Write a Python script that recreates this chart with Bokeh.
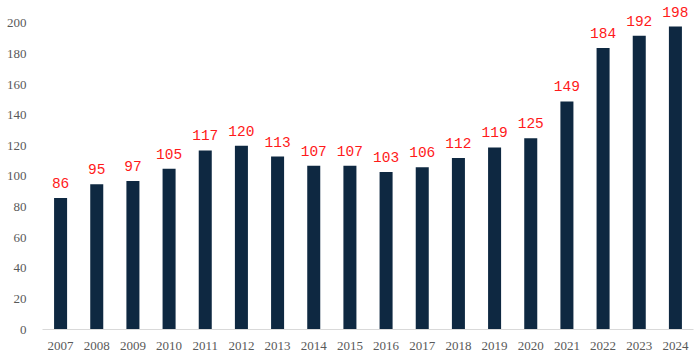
from bokeh.plotting import figure
from bokeh.models import FactorRange, Range1d, FixedTicker, ColumnDataSource
from bokeh.core.properties import value
from bokeh.embed import file_html
from bokeh.resources import INLINE

years = ["2007", "2008", "2009", "2010", "2011", "2012", "2013", "2014", "2015",
         "2016", "2017", "2018", "2019", "2020", "2021", "2022", "2023", "2024"]
values = [86, 95, 97, 105, 117, 120, 113, 107, 107, 103, 106, 112, 119, 125, 149, 184, 192, 198]
y_ticks = [0, 20, 40, 60, 80, 100, 120, 140, 160, 180, 200]

src = ColumnDataSource(dict(x=years, top=values, label=[str(v) for v in values]))

p = figure(width=694, height=353, x_range=FactorRange(factors=years, range_padding=0),
           y_range=Range1d(0, 215), output_backend="svg", toolbar_location=None,
           min_border_left=42, min_border_right=1, min_border_top=0, min_border_bottom=24)
p.outline_line_color = None
p.grid.grid_line_color = None

p.vbar(x="x", top="top", width=0.36, source=src, color="#0E2841", line_color=None)
p.text(x="x", y="top", text="label", source=src, text_align="center", text_baseline="bottom",
       y_offset=-10, text_color="#FF1A1A", text_font=value("Liberation Mono"), text_font_size="14.5px")

p.yaxis.ticker = FixedTicker(ticks=y_ticks)
p.yaxis.axis_line_color = None
p.yaxis.major_tick_line_color = None
p.yaxis.minor_tick_line_color = None
p.yaxis.major_label_standoff = 10
p.xaxis.axis_line_color = "#D9D9D9"
p.xaxis.major_tick_line_color = None
p.xaxis.minor_tick_line_color = None
p.xaxis.major_label_standoff = 6
for ax in (p.xaxis, p.yaxis):
    ax.major_label_text_font = "Liberation Serif"
    ax.major_label_text_font_size = "13px"
    ax.major_label_text_color = "#595959"

open("out.html", "w").write(file_html(p, INLINE))
